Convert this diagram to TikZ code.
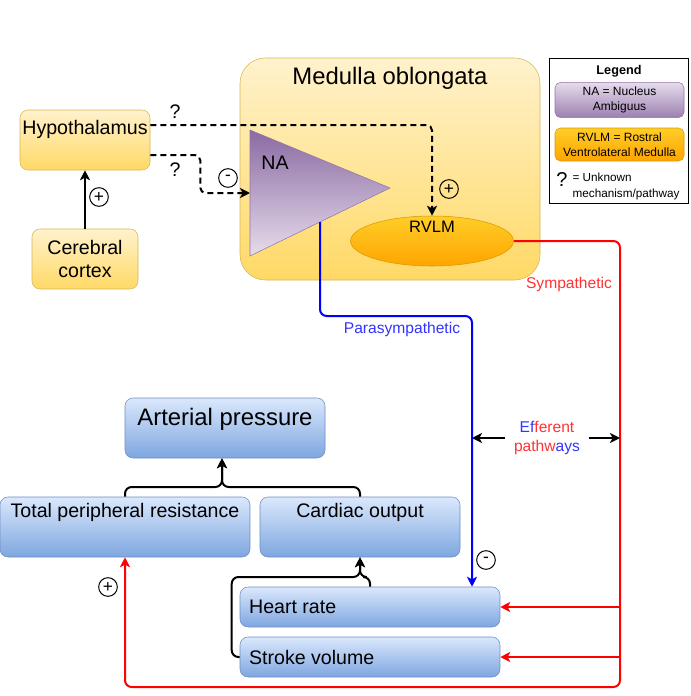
\documentclass[tikz,border=0pt]{standalone}
\usepackage{fontspec}
\setmainfont{Liberation Sans}
\usetikzlibrary{shapes.geometric, arrows.meta, positioning}
\definecolor{yellowtop}{HTML}{FFF2CC}
\definecolor{yellowbot}{HTML}{FFD966}
\definecolor{yellowline}{HTML}{D6B656}
\definecolor{bluetop}{HTML}{DAE8FC}
\definecolor{bluebot}{HTML}{7EA6E0}
\definecolor{blueline}{HTML}{6C8EBF}
\definecolor{purpletop}{HTML}{8A6AA2}
\definecolor{purplebot}{HTML}{E6DCEC}
\definecolor{purpleline}{HTML}{9673A6}
\definecolor{orangetop}{HTML}{FFCD28}
\definecolor{orangebot}{HTML}{FFA500}
\definecolor{orangeline}{HTML}{D79B00}
\definecolor{paracol}{HTML}{0000FF}
\definecolor{sympcol}{HTML}{FF0000}
\definecolor{paratext}{HTML}{3333FF}
\definecolor{symptext}{HTML}{FF3333}
\tikzset{
    yellowbox/.style = {rectangle, rounded corners=6pt, draw=yellowline, top color=yellowtop, bottom color=yellowbot},
    medbox/.style = {rectangle, rounded corners=19pt, draw=yellowline, top color=yellowtop, bottom color=yellowbot},
    bluebox/.style = {rectangle, rounded corners=6pt, draw=blueline, top color=bluetop, bottom color=bluebot},
    rvlmbox/.style = {ellipse, draw=orangeline, top color=orangetop, bottom color=orangebot},
    natri/.style = {draw=purpleline, top color=purpletop, bottom color=purplebot},
    legpurple/.style = {rectangle, rounded corners=4pt, draw=purpleline, top color=purplebot, bottom color=purpletop!85},
    legorange/.style = {rectangle, rounded corners=4pt, draw=orangeline, top color=orangetop, bottom color=orangebot},
    bodytext/.style = {font=\fontsize{14.7}{17.25}\selectfont},
    bigtext/.style = {font=\fontsize{17.9}{20}\selectfont},
    smalltext/.style = {font=\fontsize{11.7}{14}\selectfont},
    legtext/.style = {font=\fontsize{9}{11.25}\selectfont},
    sign/.style = {draw, circle, line width=0.75pt, inner sep=0pt, minimum size=14pt, font=\fontsize{13}{13}\selectfont},
    tip/.style = {-{Stealth[length=7.5pt, width=7.5pt, inset=2pt]}},
    arrow/.style = {line width=1.5pt, tip},
    dasharrow/.style = {line width=1.5pt, dash pattern=on 4.5pt off 3pt, tip, rounded corners=4pt},
    para/.style = {line width=1.5pt, draw=paracol, rounded corners=5pt},
    symp/.style = {line width=1.5pt, draw=sympcol, rounded corners=5pt}
}

\begin{document}
\begin{tikzpicture}[x=0.75pt, y=-0.75pt]
\useasboundingbox (0,0) rectangle (690,696);

% medulla oblongata
\node[medbox, minimum width=225pt, minimum height=166.5pt] (medulla) at (390,169) {};
\node[bigtext] (medulla-t) at (390,78) {Medulla oblongata};

% nucleus ambiguus
\coordinate (na-a) at (250,130);
\coordinate (na-b) at (250,256);
\coordinate (na-c) at (390,188);
\coordinate (na-in) at (250,193);
\coordinate (na-out) at (320,222);
\draw[natri] (na-a) -- (na-c) -- (na-b) -- cycle;
\node[bodytext] (na-t) at (275,163) {NA};

% rvlm
\node[rvlmbox, minimum width=122.25pt, minimum height=37.5pt] (rvlm) at (432,241) {};
\node[font=\fontsize{12.4}{14}\selectfont] (rvlm-t) at (432,227) {RVLM};

% hypothalamus and cortex
\node[yellowbox, minimum width=97.5pt, minimum height=45pt] (hyp) at (85,140) {};
\node[bodytext] (hyp-t) at ([yshift=-15pt]hyp.north) {Hypothalamus};
\node[yellowbox, bodytext, align=center, minimum width=79.5pt, minimum height=45pt] (cortex) at (85,259) {Cerebral\\cortex};

\draw[arrow] (cortex) -- (hyp);
\node[sign] (cortex-s) at (99,197) {+};

\draw[dasharrow] ([yshift=11.25pt]hyp.east) -| (rvlm.north);
\draw[dasharrow] ([yshift=-11.25pt]hyp.east) -- ++(50,0) |- (na-in);
\node[bodytext] (q-top) at (175,112) {?};
\node[bodytext] (q-bot) at (175,170) {?};
\node[sign] (na-s) at (228,178) {-};
\node[sign] (rvlm-s) at (449,189) {+};

% legend
\node[draw=black, line width=0.75pt, minimum width=104.25pt, minimum height=108.75pt] (legend) at (618.5,130.5) {};
\node[font=\bfseries\fontsize{9.5}{11}\selectfont] (legend-t) at (619,71) {Legend};
\node[legpurple, legtext, align=center, minimum width=96.75pt, minimum height=25.5pt] (leg-na) at (619.5,100) {NA = Nucleus\\Ambiguus};
\node[legorange, legtext, align=center, minimum width=96.75pt, minimum height=24.75pt] (leg-rvlm) at (619.5,144.5) {RVLM = Rostral\\Ventrolateral Medulla};
\node[font=\fontsize{15}{15}\selectfont, inner sep=0pt] (leg-q) at (562,180) {?};
\node[font=\fontsize{8.8}{12}\selectfont, align=left, anchor=west, inner sep=1pt] (leg-q-t) at (571,186.5) {= Unknown\\mechanism/pathway};

% targets
\node[bluebox, minimum width=150pt, minimum height=45pt] (ap) at (225,428) {};
\node[bigtext] (ap-t) at ([yshift=-16.5pt]ap.north) {Arterial pressure};
\node[bluebox, minimum width=187.5pt, minimum height=45pt] (tpr) at (125,527) {};
\node[bodytext] (tpr-t) at ([yshift=-12pt]tpr.north) {Total peripheral resistance};
\node[bluebox, minimum width=150pt, minimum height=45pt] (co) at (360,527) {};
\node[bodytext] (co-t) at ([yshift=-12pt]co.north) {Cardiac output};
\node[bluebox, minimum width=195pt, minimum height=30pt] (hr) at (370,607) {};
\node[bodytext, anchor=west] (hr-t) at ([xshift=3.5pt]hr.west) {Heart rate};
\node[bluebox, minimum width=195pt, minimum height=30pt] (sv) at (370,657) {};
\node[bodytext, anchor=west] (sv-t) at ([xshift=3.5pt]sv.west) {Stroke volume};

\coordinate (ap-in) at (222,487);
\coordinate (co-in) at (360,577);
\draw[arrow, rounded corners=5pt] (tpr.north) |- (ap-in) -- (ap.south -| ap-in);
\draw[arrow, rounded corners=5pt] (co.north) |- (ap-in) -- (ap.south -| ap-in);
\draw[arrow, rounded corners=5pt] (hr.north) |- (co-in) -- (co.south);
\draw[arrow, rounded corners=5pt] (sv.west) -- ++(-8,0) |- (co-in) -- (co.south);

% efferent pathways
\coordinate (par-x) at (472,316);
\coordinate (sym-x) at (620,241);
\coordinate (sym-low) at (620,687);
\draw[para, tip] (na-out) |- (par-x) -- (par-x |- hr.north);
\node[smalltext, text=paratext] (par-t) at (402,329) {Parasympathetic};
\node[sign] (hr-s) at (486,560) {-};

\draw[symp, tip] (rvlm.east) -- (sym-x) -- (sym-low) -| (tpr.south);
\draw[symp, tip] (sym-low |- hr.east) -- (hr.east);
\draw[symp, tip] (sym-low |- sv.east) -- (sv.east);
\node[smalltext, text=symptext] (sym-t) at (569,284) {Sympathetic};
\node[sign] (tpr-s) at (108,587) {+};

\node[smalltext, align=center] (eff) at (547,438) {\textcolor{paratext}{Ef}\textcolor{symptext}{ferent}\\\textcolor{symptext}{pathw}\textcolor{paratext}{ays}};
\draw[arrow] ([xshift=-3pt]eff.west) -- (eff.west -| par-x);
\draw[arrow] ([xshift=3pt]eff.east) -- (eff.east -| sym-x);
\end{tikzpicture}
\end{document}
